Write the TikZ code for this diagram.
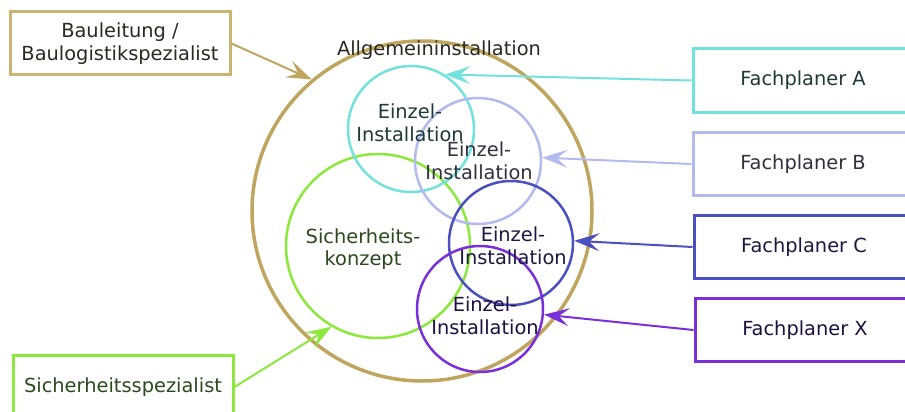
\documentclass[tikz,border=0pt]{standalone}
\usepackage{fontspec}
\setmainfont{DejaVu Sans}
\usetikzlibrary{arrows.meta}
\definecolor{cTan}{HTML}{BFA65F}
\definecolor{cTanBox}{HTML}{C9B571}
\definecolor{cCyan}{HTML}{72E2DC}
\definecolor{cLav}{HTML}{B2BAF0}
\definecolor{cBlue}{HTML}{4A50C0}
\definecolor{cPurp}{HTML}{7A30D8}
\definecolor{cGreen}{HTML}{8CE83A}
\definecolor{tDark}{HTML}{2B2A20}
\definecolor{tTeal}{HTML}{1E3A3A}
\definecolor{tGray}{HTML}{303040}
\definecolor{tNavy}{HTML}{1A1A40}
\definecolor{tPurp}{HTML}{1F1040}
\definecolor{tGreen}{HTML}{2B4A1E}
\tikzset{
  ring/.style={circle, draw, inner sep=0pt, line width=2.5pt},
  lbl/.style={align=center, inner sep=0pt, font=\fontsize{19.4}{22.5}\selectfont},
  panel/.style={draw, line width=3pt, minimum width=220pt, minimum height=63pt,
    inner sep=0pt, align=center, font=\fontsize{19.4}{22.5}\selectfont},
  arr/.style={line width=2pt, -{Stealth[length=12pt, width=8.5pt, inset=5pt, scale=2.1]}}
}
\begin{document}
\begin{tikzpicture}[x=1pt,y=-1pt]
\useasboundingbox[fill=white] (0,0) rectangle (905,412);
% circles
\node[ring, draw=cTan, line width=3.5pt, minimum size=340pt] (big) at (422,211) {};
\node[ring, draw=cGreen, minimum size=184pt] (grn) at (378,246) {};
\node[ring, draw=cCyan, minimum size=126pt] (ca) at (411,129) {};
\node[ring, draw=cLav, minimum size=126pt] (cb) at (478,161) {};
\node[ring, draw=cBlue, minimum size=124pt] (cc) at (511,243) {};
\node[ring, draw=cPurp, minimum size=126pt] (cx) at (480,309) {};
% labels
\node[lbl, text=tDark] (tall) at (439,50) {Allgemeininstallation};
\node[lbl, text=tTeal] (ta) at (410,123) {Einzel-\\Installation};
\node[lbl, text=tGray] (tb) at (479,161) {Einzel-\\Installation};
\node[lbl, text=tNavy] (tc) at (513,246) {Einzel-\\Installation};
\node[lbl, text=tPurp] (tx) at (485,316) {Einzel-\\Installation};
\node[lbl, text=tGreen] (tg) at (363,249) {Sicherheits-\\konzept};
% boxes
\node[panel, draw=cTanBox, text=tDark] (bau) at (120,43.5) {Bauleitung /\\Baulogistikspezialist};
\node[panel, draw=cCyan, text=tTeal] (fa) at (803,80.5) {Fachplaner A};
\node[panel, draw=cLav, text=tGray] (fb) at (803,164) {Fachplaner B};
\node[panel, draw=cBlue, text=tNavy] (fc) at (804,247) {Fachplaner C};
\node[panel, draw=cPurp, text=tPurp] (fx) at (805,330) {Fachplaner X};
\node[panel, draw=cGreen, text=tGreen] (sich) at (123,387) {Sicherheitsspezialist};
% arrows
\draw[arr, cTan] (bau.east) -- (big.130);
\draw[arr, cCyan] (fa.west) -- (ca.58);
\draw[arr, cLav] (fb.west) -- (cb.3);
\draw[arr, cBlue] (fc.west) -- (cc.2);
\draw[arr, cPurp] (fx.west) -- (cx.-5);
\draw[arr, cGreen] (sich.east) -- (grn.-120);
\end{tikzpicture}
\end{document}
